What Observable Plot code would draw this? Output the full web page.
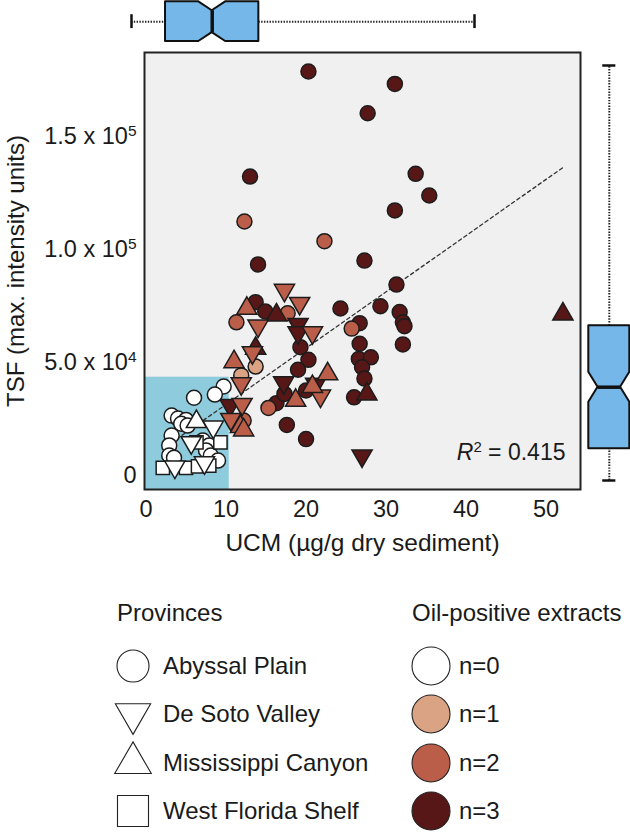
<!DOCTYPE html>
<html><head><meta charset="utf-8">
<script src="https://cdn.jsdelivr.net/npm/d3@7"></script>
<script src="https://cdn.jsdelivr.net/npm/@observablehq/plot@0.6"></script>
<style>
body{margin:0;background:#fff;font-family:"Liberation Sans",Arial,sans-serif;color:#1a1a1a;}
#wrap{position:relative;width:630px;height:833px;overflow:hidden;}
.legend{position:absolute;top:591px;font-size:24px;}
.legend .title{height:44px;line-height:44px;white-space:nowrap;}
.legend .rows{margin-top:7px;}
.legend .row{height:48.3px;display:flex;align-items:center;white-space:nowrap;}
.legend svg{display:block;overflow:visible;}
</style></head><body><div id="wrap"></div>
<script>
// ---- data ----
const provinces = ["Abyssal Plain", "De Soto Valley", "Mississippi Canyon", "West Florida Shelf"];
const oilLevels = [0, 1, 2, 3];
const oilLabels = ["n=0", "n=1", "n=2", "n=3"];
const oilColors = ["#ffffff", "#d9a384", "#ba5e4a", "#581717"];
const xTicks = [0, 10, 20, 30, 40, 50];
const yTicks = [0, 50000, 100000, 150000];

// UCM (µg/g), TSF (max intensity), province index, oil-positive extracts
const ucm = [
  // Abyssal Plain n=3
  20.3, 31.1, 27.7, 13.0, 33.7, 35.4, 31.1, 27.3, 14.0, 31.3, 24.3, 29.3, 31.7, 32.1, 32.3, 32.1, 26.7,
  26.7, 26.6, 28.1, 27.0, 27.3, 26.0, 17.6, 20.0, 16.3, 13.7, 14.9, 19.3, 20.3, 19.0, 17.3, 20.0,
  // Abyssal Plain n=2, n=1
  12.3, 22.3, 25.7, 15.3, 17.7, 11.3, 12.2, 13.7, 11.9,
  // Mississippi Canyon n=3
  52.1, 27.6, 16.3, 13.7,
  // De Soto Valley n=3
  27.0, 19.0, 19.0, 10.5, 17.2, 21.2,
  // De Soto Valley n=2
  17.3, 19.2, 14.0, 20.8, 13.3, 11.9, 12.0, 10.6, 21.8,
  // Mississippi Canyon n=2
  12.6, 11.0, 22.7, 18.7, 20.8, 11.8, 12.2,
  // Abyssal Plain n=0
  9.7, 8.6, 6.0, 3.2, 4.0, 5.0, 4.4, 5.2, 3.2, 2.9, 2.9, 3.5, 7.1, 7.9, 7.5, 8.1, 9.0,
  // West Florida Shelf n=0
  9.3, 6.3, 2.1, 5.0, 6.5, 7.9,
  // Mississippi Canyon n=0
  6.3,
  // De Soto Valley n=0
  8.4, 5.65, 3.6, 7.3
];
const tsf = [
  178800, 173300, 160300, 132300, 133500, 123900, 117300, 95100, 93400, 84500, 73900, 74900, 72300, 67800, 66100, 58000, 67400,
  58300, 51600, 52300, 47900, 42900, 34600, 22400, 16100, 32000, 76700, 72600, 56800, 51200, 46800, 36100, 37600,
  112400, 103700, 65000, 29900, 71800, 67800, 24300, 48200, 44300,
  71400, 36000, 71000, 56200,
  8700, 66900, 63200, 31000, 41100, 40400,
  82000, 76200, 66200, 63200, 54400, 40700, 31500, 24900, 35200,
  73900, 50300, 44900, 33200, 39300, 21600, 20100,
  39400, 35800, 34400, 26500, 25200, 24600, 22900, 22100, 17700, 13300, 8850, 7800, 15500, 13300, 11100, 8850, 6600,
  14700, 14700, 3400, 3400, 4000, 4400,
  23800,
  21500, 14600, 3800, 5700
];
const provinceIdx = [
  0,0,0,0,0,0,0,0,0,0,0,0,0,0,0,0,0, 0,0,0,0,0,0,0,0,0,0,0,0,0,0,0,0,
  0,0,0,0,0,0,0,0,0,
  2,2,2,2,
  1,1,1,1,1,1,
  1,1,1,1,1,1,1,1,1,
  2,2,2,2,2,2,2,
  0,0,0,0,0,0,0,0,0,0,0,0,0,0,0,0,0,
  3,3,3,3,3,3,
  2,
  1,1,1,1
];
const oil = [
  3,3,3,3,3,3,3,3,3,3,3,3,3,3,3,3,3, 3,3,3,3,3,3,3,3,3,3,3,3,3,3,3,3,
  2,2,2,2,2,2,2,1,1,
  3,3,3,3,
  3,3,3,3,3,3,
  2,2,2,2,2,2,2,2,2,
  2,2,2,2,2,2,2,
  0,0,0,0,0,0,0,0,0,0,0,0,0,0,0,0,0,
  0,0,0,0,0,0,
  0,
  0,0,0,0
];

// linear fit (dashed) endpoints and R²
const fitUcm = [2.5, 52.15];
const fitTsf = [12800, 136400];
const r2 = 0.415;
// shaded low-UCM / low-TSF zone (upper corner)
const zoneUcm = [10.4];
const zoneTsf = [43500];

// marginal boxplot statistics: [min, q1, median, q3, max], notch half-width
const ucmBox = [2.0, 6.97, 13.79, 20.6, 52.1];
const ucmNotch = 1.96;
const tsfBox = [2000, 15500, 41750, 67900, 178800];
const tsfNotch = 6400;

// ---- build ----
const samples = ucm.map((u, i) => ({ucm: u, tsf: tsf[i], province: provinces[provinceIdx[i]], oil: oil[i]}));
const fit = fitUcm.map((u, i) => ({ucm: u, tsf: fitTsf[i]}));
const zone = zoneUcm.map((u, i) => ({ucm: u, tsf: zoneTsf[i]}));

const triangleDown = {
  draw(context, size) {
    const y = -Math.sqrt(size / (Math.sqrt(3) * 3));
    context.moveTo(0, -y * 2);
    context.lineTo(-Math.sqrt(3) * y, y);
    context.lineTo(Math.sqrt(3) * y, y);
    context.closePath();
  }
};
const provinceSymbols = [d3.symbolCircle, triangleDown, d3.symbolTriangle, d3.symbolSquare];

const FONT = "'Liberation Sans', Arial, Helvetica, sans-serif";
const xDomain = [-0.19, 54.3];
const yDomain = [-6200, 187200];
const fmtY = d => {
  if (d === 0) return "0";
  const e = Math.floor(Math.log10(d));
  return `${(d / 10 ** e).toFixed(1)} x 10^${e}`;
};

const wrap = document.getElementById("wrap");

const main = Plot.plot({
  width: 630, height: 560,
  marginLeft: 144, marginRight: 50, marginTop: 52, marginBottom: 71,
  style: {fontFamily: FONT, fontSize: "23.5px", background: "transparent", color: "#1a1a1a", position: "absolute", left: "0px", top: "0px", maxWidth: "none"},
  x: {domain: xDomain, ticks: xTicks, tickSize: 0, tickPadding: 11, label: "UCM (µg/g dry sediment)", labelAnchor: "center", labelOffset: 61, labelArrow: "none"},
  y: {domain: yDomain, ticks: yTicks, tickSize: 0, tickPadding: 8, tickFormat: fmtY, label: "TSF (max. intensity units)", labelAnchor: "center", labelOffset: 138, labelArrow: "none"},
  symbol: {domain: provinces, range: provinceSymbols},
  color: {type: "ordinal", domain: oilLevels, range: oilColors},
  marks: [
    Plot.frame({fill: "#f0f0f0"}),
    Plot.rect(zone, {x1: xDomain[0], x2: "ucm", y1: yDomain[0], y2: "tsf", fill: "#8ecbdc"}),
    Plot.line(fit, {x: "ucm", y: "tsf", stroke: "#333", strokeWidth: 1.3, strokeDasharray: "3.5,3"}),
    Plot.dot(samples, {x: "ucm", y: "tsf", symbol: "province", fill: "oil", r: 7.5, stroke: "#1c1c1c", strokeWidth: 1.5}),
    Plot.text([r2], {frameAnchor: "bottom-right", text: d => `R2 = ${d}`, dx: -15, dy: -30, lineAnchor: "bottom", fontSize: 23, fill: "#1a1a1a"}),
    Plot.frame({stroke: "#222", strokeWidth: 2})
  ]
});
wrap.appendChild(main);

// superscripts in y tick labels
d3.select(main).selectAll('g[aria-label="y-axis tick label"] text').each(function () {
  const t = this.textContent;
  if (t.includes("^")) {
    const [a, b] = t.split("^");
    const s = d3.select(this);
    s.text(a);
    s.append("tspan").attr("dy", "-0.5em").attr("font-size", "0.66em").text(b);
  }
});
d3.select(main).selectAll('g[aria-label="x-axis label"] text').attr("font-size", 24.5);
d3.select(main).selectAll('g[aria-label="y-axis label"] text').attr("font-size", 24);
// italic R with superscript 2
d3.select(main).selectAll("text").filter(function () { return this.textContent.startsWith("R2 ="); }).each(function () {
  const s = d3.select(this);
  const rest = this.textContent.slice(2);
  s.text(null);
  s.append("tspan").attr("font-style", "italic").text("R");
  s.append("tspan").attr("dy", -8).attr("font-size", "0.65em").text("2");
  s.append("tspan").attr("dy", 8).text("\u00a0" + rest.trim());
});

// notched box outline helper
const WAIST = 0.55;
function boxShape(stats, notch) {
  return [
    {v: stats[1], h: 1}, {v: stats[2] - notch, h: 1}, {v: stats[2], h: WAIST},
    {v: stats[2] + notch, h: 1}, {v: stats[3], h: 1}
  ];
}
const BOX_FILL = "#74b7e8";

// top marginal boxplot (UCM)
const topBox = Plot.plot({
  width: 630, height: 52,
  marginLeft: 131, marginRight: 156, marginTop: 1.3, marginBottom: 11,
  style: {background: "transparent", position: "absolute", left: "0px", top: "0px", overflow: "visible", maxWidth: "none"},
  x: {domain: [ucmBox[0], ucmBox[4]], axis: null},
  y: {domain: [-1, 1], axis: null},
  marks: [
    Plot.ruleY([0], {x1: ucmBox[0], x2: ucmBox[1], stroke: "#222", strokeWidth: 2, strokeDasharray: "1.4,1.4"}),
    Plot.ruleY([0], {x1: ucmBox[3], x2: ucmBox[4], stroke: "#222", strokeWidth: 2, strokeDasharray: "1.4,1.4"}),
    Plot.ruleX([ucmBox[0], ucmBox[4]], {y1: -0.35, y2: 0.35, stroke: "#111", strokeWidth: 2.5}),
    Plot.area(boxShape(ucmBox, ucmNotch), {x1: "v", y1: d => -d.h, y2: d => d.h, fill: BOX_FILL, stroke: "#111", strokeWidth: 2}),
    Plot.ruleX([ucmBox[2]], {y1: -WAIST, y2: WAIST, stroke: "#111", strokeWidth: 3.5})
  ]
});
wrap.appendChild(topBox);

// right marginal boxplot (TSF)
const rightBox = Plot.plot({
  width: 50, height: 500,
  marginLeft: 8.3, marginRight: 0.7, marginTop: 65, marginBottom: 20,
  style: {background: "transparent", position: "absolute", left: "580px", top: "0px", overflow: "visible", maxWidth: "none"},
  x: {domain: [-1, 1], axis: null},
  y: {domain: [tsfBox[0], tsfBox[4]], axis: null},
  marks: [
    Plot.ruleX([0], {y1: tsfBox[0], y2: tsfBox[1], stroke: "#222", strokeWidth: 2, strokeDasharray: "1.4,1.4"}),
    Plot.ruleX([0], {y1: tsfBox[3], y2: tsfBox[4], stroke: "#222", strokeWidth: 2, strokeDasharray: "1.4,1.4"}),
    Plot.ruleY([tsfBox[0], tsfBox[4]], {x1: -0.32, x2: 0.32, stroke: "#111", strokeWidth: 2.5}),
    Plot.area(boxShape(tsfBox, tsfNotch), {y1: "v", x1: d => -d.h, x2: d => d.h, fill: BOX_FILL, stroke: "#111", strokeWidth: 2}),
    Plot.ruleY([tsfBox[2]], {x1: -WAIST, x2: WAIST, stroke: "#111", strokeWidth: 3.5})
  ]
});
wrap.appendChild(rightBox);

// ---- legend ----
function legendColumn(left, title, items, symW) {
  const col = d3.select(wrap).append("div").attr("class", "legend").style("left", left + "px");
  col.append("div").attr("class", "title").text(title);
  const rows = col.append("div").attr("class", "rows");
  items.forEach(it => {
    const row = rows.append("div").attr("class", "row");
    const svg = row.append("svg").attr("width", symW).attr("height", 40);
    svg.append("path")
      .attr("transform", `translate(${symW / 2},20)`)
      .attr("d", d3.symbol(it.symbol, it.size)())
      .attr("fill", it.fill).attr("stroke", "#222").attr("stroke-width", 1.1);
    row.append("span").style("margin-left", it.gap + "px").text(it.label);
  });
}
const provSizes = [Math.PI * 16 * 16, 540, 580, 31 * 31];
legendColumn(117, "Provinces", provinces.map((p, i) => ({symbol: provinceSymbols[i], size: provSizes[i], fill: "#fff", label: p, gap: 14})), 32);
legendColumn(412, "Oil-positive extracts", oilLevels.map((n, i) => ({symbol: d3.symbolCircle, size: Math.PI * 19 * 19, fill: oilColors[i], label: oilLabels[i], gap: 9})), 38);
</script></body></html>
